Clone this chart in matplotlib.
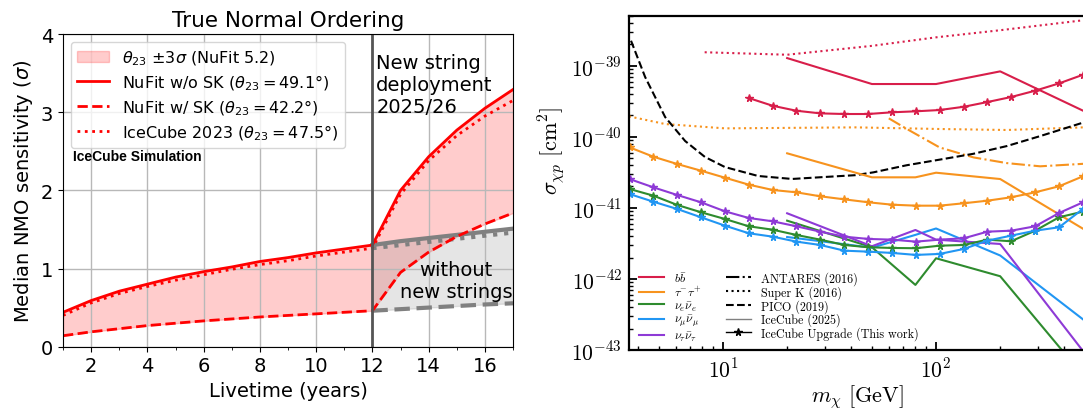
import numpy as np
import matplotlib
matplotlib.use("Agg")
import matplotlib.pyplot as plt
from matplotlib.lines import Line2D
from matplotlib.patches import Patch
from matplotlib.font_manager import FontProperties
from matplotlib.ticker import (MultipleLocator, LogLocator, FixedLocator, FuncFormatter,
                               NullFormatter)

plt.rcParams["mathtext.fontset"] = "cm"

# left panel: median NMO sensitivity vs livetime
years = [1, 2, 3, 4, 5, 6, 7, 8, 9, 10, 11, 12, 13, 14, 15, 16, 17]
nufit_wo_sk = [0.44, 0.59, 0.71, 0.80, 0.89, 0.96, 1.02, 1.09, 1.14, 1.20, 1.25, 1.30,
               2.00, 2.43, 2.77, 3.05, 3.29]
nufit_w_sk = [0.14, 0.19, 0.23, 0.27, 0.30, 0.33, 0.355, 0.38, 0.40, 0.42, 0.44, 0.46,
              0.95, 1.21, 1.41, 1.57, 1.71]
icecube_2023 = [0.40, 0.56, 0.68, 0.77, 0.85, 0.92, 0.99, 1.05, 1.10, 1.16, 1.21, 1.26,
                1.95, 2.38, 2.70, 2.95, 3.15]

years_no_strings = [12, 13, 14, 15, 16, 17]
no_strings_wo_sk = [1.30, 1.35, 1.39, 1.43, 1.47, 1.51]
no_strings_w_sk = [0.46, 0.48, 0.50, 0.52, 0.54, 0.555]
no_strings_ic2023 = [1.26, 1.30, 1.34, 1.38, 1.42, 1.46]

# right panel: dark matter cross section limits (log10 of sigma in cm^2)
m_upgrade = [3.64, 4.71, 6.10, 7.89, 10.2, 13.2, 17.1, 22.1, 28.6, 37.1,
             48.0, 62.1, 80.4, 104, 135, 174, 225, 292, 378, 489]
bb_upgrade = [-39.454, -39.563, -39.633, -39.670, -39.679, -39.679, -39.655, -39.641,
              -39.623, -39.577, -39.511, -39.440, -39.351, -39.248, -39.127]
tautau_upgrade = [-40.148, -40.280, -40.383, -40.477, -40.575, -40.673, -40.748, -40.781,
                  -40.837, -40.880, -40.921, -40.955, -40.969, -40.969, -40.935, -40.899,
                  -40.851, -40.781, -40.696, -40.556]
nue_upgrade = [-40.734, -40.828, -40.959, -41.062, -41.156, -41.259, -41.307, -41.381,
               -41.447, -41.522, -41.554, -41.564, -41.568, -41.532, -41.522, -41.447,
               -41.470, -41.321, -41.132, -41.053]
numu_upgrade = [-40.805, -40.913, -41.016, -41.133, -41.250, -41.357, -41.405, -41.475,
                -41.522, -41.602, -41.616, -41.634, -41.662, -41.648, -41.578, -41.461,
                -41.391, -41.321, -41.273, -41.015]
nutau_upgrade = [-40.594, -40.711, -40.819, -40.922, -41.048, -41.142, -41.189, -41.259,
                 -41.335, -41.405, -41.437, -41.447, -41.475, -41.447, -41.428, -41.335,
                 -41.321, -41.259, -41.072, -40.922]

m_icecube = [20, 50, 80, 100, 200, 500]
bb_icecube = [-38.892, -39.257, -39.257, -39.257, -39.079, -39.645]
tautau_icecube = [-40.232, -40.570, -40.570, -40.505, -40.594, -41.31]
nue_icecube = [-41.180, -41.554, -42.084, -41.709, -41.962, -43.39]
numu_icecube = [-41.41, -41.56, -41.38, -41.29, -41.67, -42.59]
nutau_icecube = [-41.076, -41.540, -41.311, -41.447, -41.508, -43.05]

m_pico = [3.70, 4.31, 5.35, 6.64, 8.23, 10.2, 14.6, 21.1, 30.1, 41.7, 50.8, 72.8,
          104.5, 149, 215, 308, 490]
pico = [-38.648, -39.159, -39.722, -40.059, -40.284, -40.425, -40.551, -40.593, -40.565,
        -40.54, -40.50, -40.40, -40.32, -40.24, -40.13, -39.99, -39.80]

m_antares = [60, 73, 104, 150, 215, 308, 490]
antares_tautau = [-39.74, -39.89, -40.15, -40.29, -40.37, -40.415, -40.38]

m_superk_bb = [8.2, 20, 50, 100, 200, 490]
superk_bb = [-38.81, -38.845, -38.72, -38.60, -38.50, -38.36]
m_superk_tautau = [3.62, 5.35, 10.2, 42, 104, 215, 490]
superk_tautau = [-39.712, -39.82, -39.881, -39.867, -39.890, -39.904, -39.867]

y_decades = [1e-43, 1e-42, 1e-41, 1e-40, 1e-39]
x_decades = [10, 100]

channel_colors = {
    "bb": "#d81e4a",
    "tautau": "#f7931e",
    "nue": "#2e8b2e",
    "numu": "#2196f3",
    "nutau": "#8e3ad6",
}
channel_labels = [r"$b\bar{b}$", r"$\tau^{-}\tau^{+}$", r"$\nu_e\bar{\nu}_e$",
                  r"$\nu_\mu\bar{\nu}_\mu$", r"$\nu_\tau\bar{\nu}_\tau$"]

fig = plt.figure(figsize=(10.83, 4.10), dpi=100)

# ---------------- left panel ----------------
ax1 = fig.add_axes([0.0582, 0.152, 0.4155, 0.7626])

ax1.fill_between(years, nufit_w_sk, nufit_wo_sk, color="red", alpha=0.2)
ax1.fill_between(years_no_strings, no_strings_w_sk, no_strings_wo_sk, color="grey", alpha=0.2)

ax1.plot(years_no_strings, no_strings_wo_sk, color="grey", lw=3, ls="-")
ax1.plot(years_no_strings, no_strings_w_sk, color="grey", lw=3, ls="--")
ax1.plot(years_no_strings, no_strings_ic2023, color="grey", lw=3, ls=":")

ax1.plot(years, nufit_wo_sk, color="red", lw=2, ls="-")
ax1.plot(years, nufit_w_sk, color="red", lw=2, ls="--")
ax1.plot(years, icecube_2023, color="red", lw=2, ls=":")

ax1.axvline(12, color="#555555", lw=2)

ax1.set_xlim(1, 17)
ax1.set_ylim(0, 4)
ax1.xaxis.set_major_locator(MultipleLocator(2))
ax1.xaxis.set_minor_locator(MultipleLocator(1))
ax1.yaxis.set_major_locator(MultipleLocator(1))
ax1.grid(True, which="major", color="#b8b8b8", lw=1)
ax1.tick_params(labelsize=14)
ax1.set_xlabel("Livetime (years)", fontsize=14)
ax1.set_ylabel(r"Median NMO sensitivity ($\sigma$)", fontsize=14,
               math_fontfamily="dejavusans")
ax1.set_title("True Normal Ordering", fontsize=15.5)

left_handles = [
    Patch(facecolor="red", edgecolor="red", alpha=0.2),
    Line2D([], [], color="red", lw=2, ls="-"),
    Line2D([], [], color="red", lw=2, ls="--"),
    Line2D([], [], color="red", lw=2, ls=":"),
]
left_labels = [
    r"$\theta_{23}$ $\pm 3\sigma$ (NuFit 5.2)",
    r"NuFit w/o SK ($\theta_{23} = 49.1°$)",
    r"NuFit w/ SK ($\theta_{23} = 42.2°$)",
    r"IceCube 2023 ($\theta_{23} = 47.5°$)",
]
ax1.legend(left_handles, left_labels, loc="upper left", labelspacing=0.35,
           prop=FontProperties(size=11.5, math_fontfamily="dejavusans"))

ax1.text(12.14, 3.76, "New string\ndeployment\n2025/26", fontsize=14, va="top", ha="left")
ax1.text(14.98, 0.85, "without\nnew strings", fontsize=14, va="center", ha="center")
ax1.text(1.35, 2.44, "IceCube Simulation", fontsize=10, fontweight="bold",
         family="Liberation Sans", va="center", ha="left")

# ---------------- right panel ----------------
ax2 = fig.add_axes([0.5808, 0.1439, 0.4210, 0.8146])
ax2.set_xscale("log")
ax2.set_yscale("log")


def sig(vals):
    return 10.0 ** np.array(vals)


lw = 1.5
ax2.plot(m_superk_bb, sig(superk_bb), color=channel_colors["bb"], ls=":", lw=lw)
ax2.plot(m_superk_tautau, sig(superk_tautau), color=channel_colors["tautau"], ls=":", lw=lw)
ax2.plot(m_antares, sig(antares_tautau), color=channel_colors["tautau"], ls="-.", lw=lw)
ax2.plot(m_pico, sig(pico), color="black", ls="--", lw=lw)

ax2.plot(m_icecube, sig(bb_icecube), color=channel_colors["bb"], lw=lw)
ax2.plot(m_icecube, sig(tautau_icecube), color=channel_colors["tautau"], lw=lw)
ax2.plot(m_icecube, sig(nue_icecube), color=channel_colors["nue"], lw=lw)
ax2.plot(m_icecube, sig(numu_icecube), color=channel_colors["numu"], lw=lw)
ax2.plot(m_icecube, sig(nutau_icecube), color=channel_colors["nutau"], lw=lw)

star = dict(marker="*", markersize=5.5, lw=lw)
ax2.plot(m_upgrade[5:], sig(bb_upgrade), color=channel_colors["bb"], **star)
ax2.plot(m_upgrade, sig(tautau_upgrade), color=channel_colors["tautau"], **star)
ax2.plot(m_upgrade, sig(nue_upgrade), color=channel_colors["nue"], **star)
ax2.plot(m_upgrade, sig(numu_upgrade), color=channel_colors["numu"], **star)
ax2.plot(m_upgrade, sig(nutau_upgrade), color=channel_colors["nutau"], **star)

ax2.set_xlim(3.62, 500)
ax2.set_ylim(1e-43, 10 ** -38.3)

for side in ["left", "bottom", "top", "right"]:
    ax2.spines[side].set_linewidth(1.6)

ax2.yaxis.set_major_locator(FixedLocator(y_decades))
ax2.xaxis.set_major_locator(FixedLocator(x_decades))
ax2.yaxis.set_minor_locator(LogLocator(base=10, subs=np.arange(2, 10), numticks=50))
ax2.xaxis.set_minor_locator(LogLocator(base=10, subs=np.arange(2, 10), numticks=50))
power_fmt = FuncFormatter(lambda v, p: r"$10^{%d}$" % int(round(np.log10(v))))
ax2.xaxis.set_major_formatter(power_fmt)
ax2.yaxis.set_major_formatter(power_fmt)
ax2.xaxis.set_minor_formatter(NullFormatter())
ax2.yaxis.set_minor_formatter(NullFormatter())
ax2.tick_params(which="both", direction="in", top=False, right=False)
ax2.tick_params(which="major", length=6, width=1.3, labelsize=15.5, pad=5)
ax2.tick_params(which="minor", length=3, width=1.0)

ax2.set_xlabel(r"$m_\chi\ [\mathrm{GeV}]$", fontsize=16, labelpad=1)
ax2.set_ylabel(r"$\sigma_{\chi p}\ [\mathrm{cm}^2]$", fontsize=16)
ax2.yaxis.set_label_coords(-0.135, 0.6)

ch_handles = [Line2D([], [], color=channel_colors[k], lw=lw)
              for k in ["bb", "tautau", "nue", "numu", "nutau"]]
style_handles = [
    Line2D([], [], color="black", ls="-.", lw=lw),
    Line2D([], [], color="black", ls=":", lw=lw),
    Line2D([], [], color="black", ls="--", lw=lw),
    Line2D([], [], color="grey", ls="-", lw=1.0),
    Line2D([], [], color="black", ls="-", lw=1.0, marker="*", markersize=5.5),
]
style_labels = ["ANTARES (2016)", "Super K (2016)", "PICO (2019)", "IceCube (2025)",
                "IceCube Upgrade (This work)"]
ax2.legend(ch_handles + style_handles, channel_labels + style_labels, ncol=2,
           loc="lower left", bbox_to_anchor=(0.022, 0.02), borderaxespad=0, borderpad=0,
           frameon=False, handlelength=2.1, handletextpad=0.8, columnspacing=2.0,
           labelspacing=0.0,
           prop=FontProperties(family="cmr10", size=8.7, math_fontfamily="cm"))

fig.savefig("out.png", dpi=100)
